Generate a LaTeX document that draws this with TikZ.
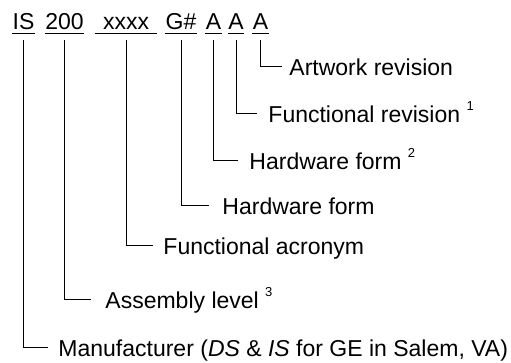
\documentclass[tikz,border=0pt]{standalone}
\usepackage{fontspec}
\setmainfont{Liberation Sans}
\newcommand{\supnum}[1]{\raisebox{1.0ex}{\fontsize{13}{13}\selectfont #1}}
\begin{document}
\begin{tikzpicture}[x=1pt,y=-1pt,line width=0.9pt,
  code/.style={inner sep=0pt,text depth=4pt,anchor=base,font=\fontsize{23}{27}\selectfont},
  lbl/.style={inner sep=0pt,anchor=base west,font=\fontsize{23}{27}\selectfont},
  uline/.style={line width=1pt}]
\useasboundingbox (0,0) rectangle (511,362);
\node[code,minimum width=20pt] (is) at (23.5,29) {IS};
\node[code,minimum width=38pt] (lev) at (64.5,29) {200};
\node[code,minimum width=62pt] (acr) at (126,29) {xxxx};
\node[code,minimum width=32pt] (g) at (181,29) {G\#};
\node[code,minimum width=15pt] (a1) at (213.5,29) {A};
\node[code,minimum width=14pt] (a2) at (236,29) {A};
\node[code,minimum width=13pt] (a3) at (260.5,29) {A};
\foreach \n in {is,lev,acr,g,a1,a2,a3}
  \draw[uline] (\n.south west) -- (\n.south east);
\node[lbl] (art) at (289,75.5) {Artwork revision};
\node[lbl] (frev) at (268,122.5) {Functional revision \supnum{1}};
\node[lbl] (hw2) at (249,169.5) {Hardware form \supnum{2}};
\node[lbl] (hw) at (222,214.5) {Hardware form};
\node[lbl] (facr) at (163,254.5) {Functional acronym};
\node[lbl] (asm) at (105,308.5) {Assembly level \supnum{3}};
\node[lbl] (man) at (58,356.5) {Manufacturer (\textit{DS} \& \textit{IS} for GE in Salem, VA)};
\draw ([yshift=-7pt]a3.south) |- ([xshift=-7pt,yshift=9.5pt]art.base west);
\draw ([yshift=-7pt]a2.south) |- ([xshift=-11pt,yshift=9.5pt]frev.base west);
\draw ([yshift=-7pt]a1.south) |- ([xshift=-11pt,yshift=9.5pt]hw2.base west);
\draw ([yshift=-7pt]g.south) |- ([xshift=-13pt,yshift=9.5pt]hw.base west);
\draw ([yshift=-7pt]acr.south) |- ([xshift=-10pt,yshift=9.5pt]facr.base west);
\draw ([yshift=-7pt]lev.south) |- ([xshift=-14pt,yshift=9.5pt]asm.base west);
\draw ([yshift=-7pt]is.south) |- ([xshift=-10pt,yshift=9.5pt]man.base west);
\end{tikzpicture}
\end{document}
